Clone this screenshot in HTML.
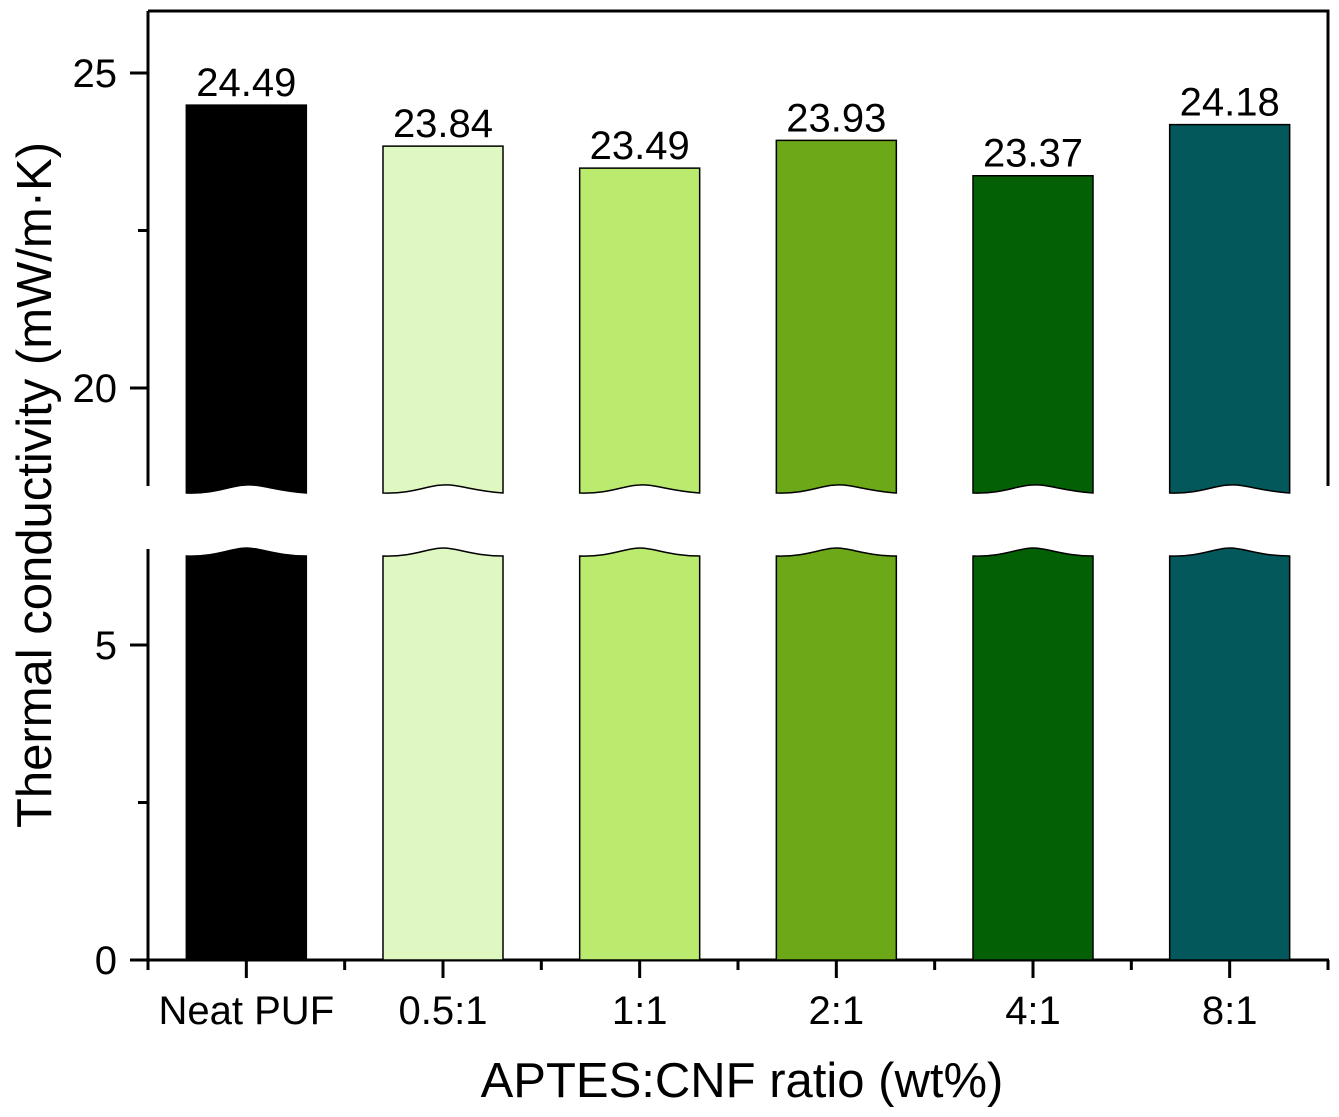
<!DOCTYPE html>
<html><head><meta charset="utf-8"><style>
html,body{margin:0;padding:0;background:#fff}
svg{display:block;font-family:"Liberation Sans",Arial,sans-serif}
</style></head><body>
<svg id="chart" width="1339" height="1117" viewBox="0 0 1339 1117">
<g id="frame"></g>
<g id="bars"></g>
<g id="labels"></g>
<text x="38" y="485" transform="rotate(-90 38 485)" text-anchor="middle" dominant-baseline="middle" font-size="49">Thermal conductivity (mW/m·K)</text>
<text x="742" y="1097" text-anchor="middle" font-size="49">APTES:CNF ratio (wt%)</text>
</svg>
<script>
const categories = ["Neat PUF","0.5:1","1:1","2:1","4:1","8:1"];
const values = [24.49,23.84,23.49,23.93,23.37,24.18];
const colors = ["#000000","#dff7c0","#bbeb6e","#6ca817","#046004","#02585a"];
const upperTicks = [20,25];
const upperMinor = [22.5];
const lowerTicks = [0,5];
const lowerMinor = [2.5];

const NS="http://www.w3.org/2000/svg";
const X0=148, X1=1328, PPU=63;
const lowerY = v => 960 - v*PPU;
const upperY = v => 388 - (v-20)*PPU;
const LOW_TOP=549, UP_BOT=486, TOP=11;
const step=(X1-X0)/categories.length;
const xc = i => X0 + step*(i+0.5);
const BW=120;
function mk(tag,attrs,parent){const e=document.createElementNS(NS,tag);for(const k in attrs)e.setAttribute(k,attrs[k]);parent.appendChild(e);return e;}
const frame=document.getElementById('frame'), bars=document.getElementById('bars'), labels=document.getElementById('labels');

categories.forEach((c,i)=>{
  const l=xc(i)-BW/2, r=xc(i)+BW/2, t=upperY(values[i]);
  const up=mk('path',{d:`M${l},${t} L${r},${t} L${r},${UP_BOT+7} C${r-30},${UP_BOT+5} ${r-45},${UP_BOT-2} ${xc(i)},${UP_BOT-1} C${l+45},${UP_BOT-1} ${l+30},${UP_BOT+8} ${l},${UP_BOT+7} Z`,fill:colors[i],stroke:'#000','stroke-width':1.5},bars);
  
  
  const lt=LOW_TOP+7;
  const lo=mk('path',{d:`M${l},${lowerY(0)} L${l},${lt} C${l+30},${lt+1} ${l+45},${lt-8} ${xc(i)},${lt-8} C${r-45},${lt-8} ${r-30},${lt} ${r},${lt} L${r},${lowerY(0)} Z`,fill:colors[i],stroke:'#000','stroke-width':1.5},bars);
  
  
  const tx=mk('text',{x:xc(i),y:t-9,'text-anchor':'middle','font-size':40},labels);
  tx.textContent=values[i].toFixed(2);
  
  
  const cl=mk('text',{x:xc(i),y:1024,'text-anchor':'middle','font-size':40},frame);
  cl.textContent=c;
  
  
  mk('line',{x1:xc(i),x2:xc(i),y1:960,y2:978,stroke:'#000','stroke-width':3},frame);
});
for(let i=0;i<=categories.length;i++){const x=X0+step*i;mk('line',{x1:x,x2:x,y1:960,y2:970,stroke:'#000','stroke-width':3},frame);}
mk('line',{x1:X0,x2:X0,y1:TOP,y2:UP_BOT,stroke:'#000','stroke-width':3},frame);
mk('line',{x1:X0,x2:X0,y1:LOW_TOP,y2:961,stroke:'#000','stroke-width':3},frame);
mk('path',{d:`M${X0},${TOP} L${X1},${TOP} L${X1},${UP_BOT}`,fill:'none',stroke:'#000','stroke-width':3},frame);
mk('line',{x1:130,x2:X1+1,y1:960,y2:960,stroke:'#000','stroke-width':3},frame);
function yt(v,y,major){
  mk('line',{x1:major?130:138,x2:X0,y1:y,y2:y,stroke:'#000','stroke-width':3},frame);
  if(major){const t=mk('text',{x:117,y:y+14,'text-anchor':'end','font-size':40},frame);t.textContent=v;
    
    }
}
upperTicks.forEach(v=>yt(v,upperY(v),true));
upperMinor.forEach(v=>yt(v,upperY(v),false));
lowerTicks.forEach(v=>yt(v,lowerY(v),true));
lowerMinor.forEach(v=>yt(v,lowerY(v),false));
</script>
</body></html>
